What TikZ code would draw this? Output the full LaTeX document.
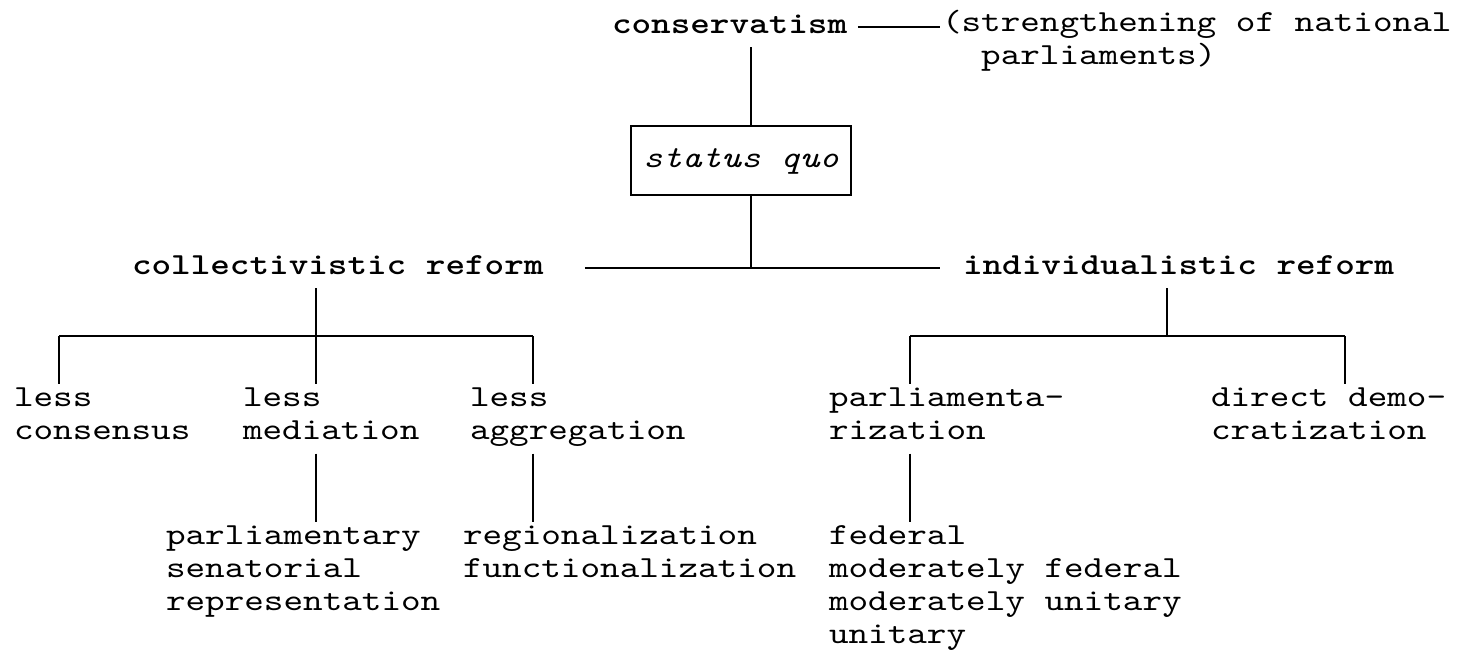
\documentclass[tikz,border=0pt]{standalone}
\usepackage{fontspec}
\setmonofont{lmmono10-regular.otf}[BoldFont=lmmonolt10-bold.otf, ItalicFont=lmmono10-italic.otf, FakeStretch=1.217]
\tikzset{
  txt/.style={font=\fontsize{23}{24.75}\selectfont\ttfamily, align=left, inner sep=0pt, outer sep=3pt, anchor=north west, execute at begin node=\strut, execute at end node=\strut},
  hd/.style={txt, font=\fontsize{23}{24.75}\selectfont\ttfamily\bfseries},
  quobox/.style={draw, line width=1.5pt, inner xsep=9pt, inner ysep=13.5pt, font=\fontsize{23}{24.75}\selectfont\ttfamily\itshape, execute at begin node=\strut},
  conn/.style={line width=1.5pt}
}
\begin{document}
\begin{tikzpicture}[x=0.75pt,y=0.75pt,yscale=-1,xscale=1]
\useasboundingbox (0,0) rectangle (1477,658);
% top
\node[hd] (cons) at (608,6) {conservatism};
\node[txt] (note) at (938,6) {(strengthening of national\\\phantom{(s}parliaments)};
\node[quobox] (quo) at (741,160.5) {status quo};
\coordinate (hub) at (751,267.4);
\draw[conn, shorten <=5pt, shorten >=-1.5pt] (cons.east) -- (cons.east -| note.west);
\draw[conn] (cons.south -| hub) -- (quo.north -| hub);
\draw[conn] (quo.south -| hub) -- (hub);
% two reforms
\node[hd] (coll) at (128,247) {collectivistic reform};
\node[hd] (indiv) at (959,247) {individualistic reform};
\draw[conn, shorten <=28pt, shorten >=14pt] (coll.east) -- (indiv.west);
% collectivistic side
\node[txt] (lcons) at (10,384) {less\\consensus};
\node[txt] (lmed) at (239,384) {less\\mediation};
\node[txt] (lagg) at (466,384) {less\\aggregation};
\node[txt] (rep) at (162,522) {parliamentary\\senatorial\\representation};
\node[txt] (reg) at (459,522) {regionalization\\functionalization};
\coordinate (cj) at (316,336);
\coordinate (cl) at (59,336);
\coordinate (cr) at (533,336);
\draw[conn] (coll.south -| cj) -- (cj);
\draw[conn] (cl) -- (cr);
\draw[conn] (cl) -- (cl |- lcons.north);
\draw[conn] (cj) -- (cj |- lmed.north);
\draw[conn] (cr) -- (cr |- lagg.north);
\draw[conn] (lmed.south -| cj) -- (cj |- rep.north);
\draw[conn] (lagg.south -| cr) -- (cr |- reg.north);
% individualistic side
\node[txt] (parl) at (825,384) {parliamenta-\\rization};
\node[txt] (direct) at (1207,384) {direct demo-\\cratization};
\node[txt] (fed) at (825,522) {federal\\moderately federal\\moderately unitary\\unitary};
\coordinate (ij) at (1167,336);
\coordinate (il) at (910,336);
\coordinate (ir) at (1345,336);
\draw[conn] (indiv.south -| ij) -- (ij);
\draw[conn] (il) -- (ir);
\draw[conn] (il) -- (il |- parl.north);
\draw[conn] (ir) -- (ir |- direct.north);
\draw[conn] (parl.south -| il) -- (il |- fed.north);
\end{tikzpicture}
\end{document}
